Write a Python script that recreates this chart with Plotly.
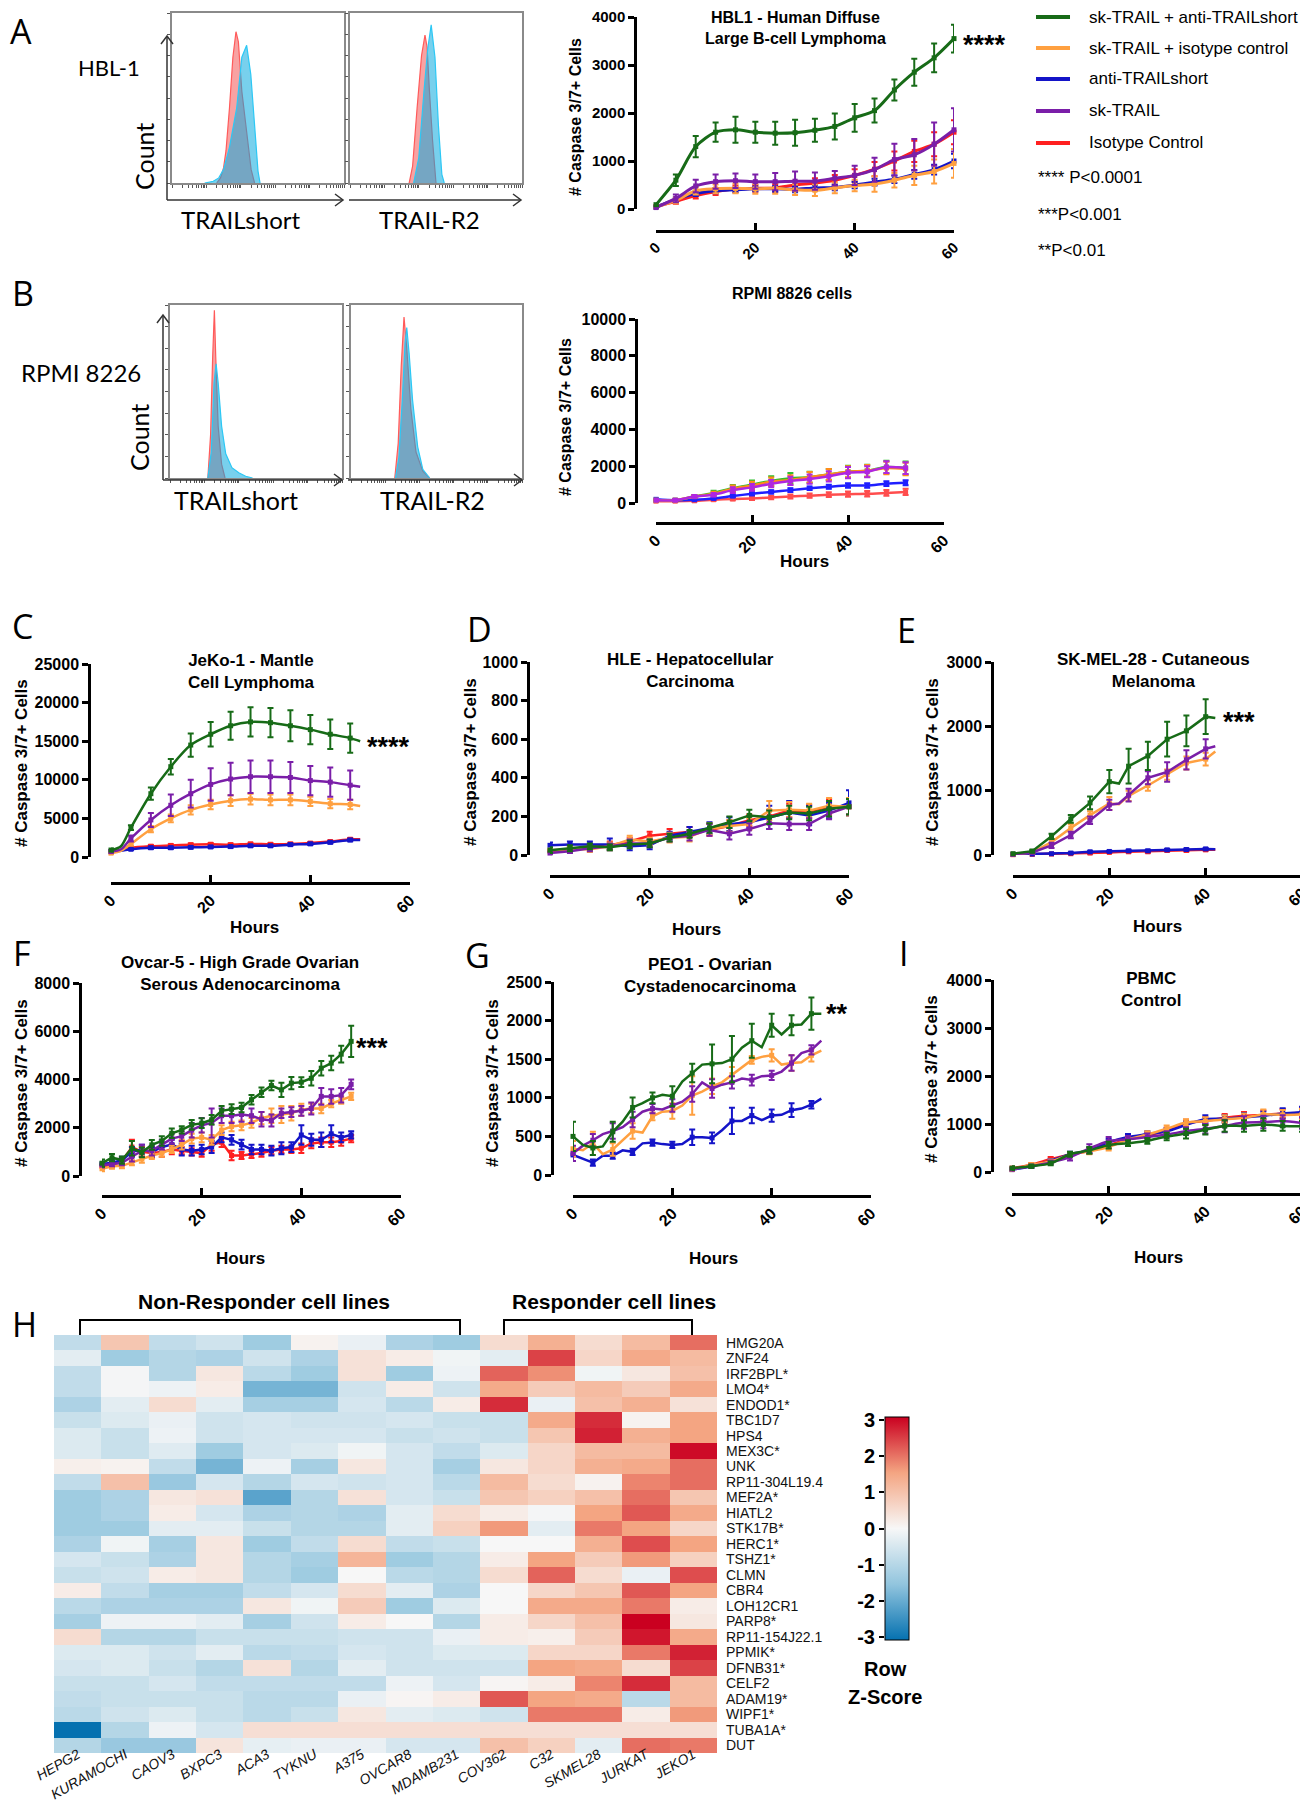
import plotly.graph_objects as go

W, H = 1308, 1800
ARIAL = "Liberation Sans, Arial, sans-serif"
CALIBRI = "Lato, 'Open Sans', sans-serif"
LETTER = "'Open Sans', 'Noto Sans', sans-serif"


def fx(x):
    return x / W


def fy(y):
    return 1 - y / H


# ======================= DATA =======================
SERIES = ["sk-TRAIL + anti-TRAILshort", "sk-TRAIL + isotype control",
          "anti-TRAILshort", "sk-TRAIL", "Isotype Control"]
P_LABELS = ["**** P<0.0001", "***P<0.001", "**P<0.01"]
HOUR_TICKS = [0, 20, 40, 60]

# ---- Panel A (HBL1) ----
hbl1_hours = [0, 4, 8, 12, 16, 20, 24, 28, 32, 36, 40, 44, 48, 52, 56, 60]
hbl1_green = [90, 600, 1300, 1600, 1650, 1600, 1580, 1590, 1640, 1720, 1900, 2050, 2480, 2850, 3150, 3550]
hbl1_green_err = [30, 120, 220, 200, 270, 220, 240, 270, 240, 270, 290, 250, 220, 280, 300, 290]
hbl1_orange = [40, 180, 380, 420, 430, 420, 430, 400, 390, 440, 490, 520, 600, 700, 780, 950]
hbl1_orange_err = [20, 60, 80, 90, 100, 100, 110, 110, 120, 110, 120, 160, 150, 200, 250, 300]
hbl1_blue = [40, 200, 320, 380, 400, 420, 420, 410, 440, 450, 500, 560, 620, 720, 820, 1000]
hbl1_blue_err = [20, 40, 50, 50, 50, 50, 60, 60, 60, 60, 70, 70, 80, 90, 100, 150]
hbl1_purple = [30, 220, 480, 570, 590, 570, 570, 580, 580, 640, 700, 820, 1030, 1130, 1350, 1650]
hbl1_purple_err = [20, 80, 130, 150, 150, 150, 180, 200, 180, 150, 200, 250, 330, 330, 450, 450]
hbl1_red = [50, 160, 280, 360, 420, 430, 440, 500, 540, 600, 700, 830, 1000, 1200, 1350, 1600]
hbl1_red_err = [20, 50, 60, 70, 70, 70, 80, 90, 100, 110, 130, 150, 200, 220, 250, 250]

# ---- Panel B (RPMI 8826) ----
rpmi_hours = [0, 4, 8, 12, 16, 20, 24, 28, 32, 36, 40, 44, 48, 52]
rpmi_green = [150, 150, 350, 550, 800, 1000, 1200, 1350, 1400, 1550, 1700, 1750, 1950, 1900]
rpmi_green_err = [50, 50, 80, 120, 180, 220, 250, 280, 300, 300, 320, 330, 350, 350]
rpmi_orange = [150, 150, 350, 500, 780, 950, 1150, 1250, 1400, 1550, 1700, 1750, 1900, 1850]
rpmi_orange_err = [50, 50, 80, 110, 170, 200, 230, 260, 280, 300, 300, 320, 340, 340]
rpmi_purple = [150, 150, 350, 450, 700, 850, 1050, 1200, 1300, 1450, 1650, 1700, 1950, 1900]
rpmi_purple_err = [50, 50, 80, 100, 150, 180, 200, 220, 250, 280, 300, 300, 320, 320]
rpmi_blue = [200, 150, 180, 250, 380, 500, 600, 700, 800, 880, 950, 950, 1050, 1100]
rpmi_blue_err = [40, 40, 50, 60, 70, 80, 90, 100, 100, 110, 120, 120, 130, 140]
rpmi_red = [100, 100, 120, 180, 220, 250, 300, 350, 400, 450, 480, 500, 550, 600]
rpmi_red_err = [40, 40, 50, 60, 70, 90, 100, 110, 120, 130, 140, 150, 160, 170]

# ---- Panel C (JeKo-1) ----
jeko_hours = [0, 2, 4, 8, 12, 16, 20, 24, 28, 32, 36, 40, 44, 48, 50]
jeko_green = [900, 1400, 3800, 8200, 11700, 14500, 15900, 17000, 17500, 17400, 17000, 16500, 15900, 15400, 15000]
jeko_green_err = [200, None, 300, 800, 1000, 1500, 1600, 1800, 1900, 1900, 2000, 1900, 1900, 1900, None]
jeko_purple = [700, 1000, 2400, 4800, 6700, 8200, 9400, 10100, 10400, 10400, 10300, 9900, 9700, 9300, 9100]
jeko_purple_err = [150, None, 400, 900, 1400, 1800, 2100, 2100, 2100, 2100, 2000, 1900, 1900, 1900, None]
jeko_orange = [500, 800, 1700, 3600, 5000, 6100, 6800, 7300, 7500, 7400, 7400, 7200, 6900, 6800, 6600]
jeko_orange_err = [100, None, 200, 400, 500, 600, 600, 700, 700, 700, 700, 600, 600, 600, None]
jeko_red = [700, 900, 1200, 1400, 1500, 1600, 1650, 1600, 1700, 1650, 1700, 1800, 2000, 2300, 2300]
jeko_red_err = [100, None, 150, 150, 150, 150, 150, 150, 150, 150, 150, 150, 150, 150, None]
jeko_blue = [700, 800, 1000, 1200, 1200, 1250, 1300, 1350, 1450, 1450, 1600, 1700, 1900, 2200, 2200]
jeko_blue_err = [100, None, 100, 150, 150, 150, 150, 150, 150, 150, 150, 150, 150, 150, None]

# ---- Panel D (HLE) ----
hle_hours = [0, 4, 8, 12, 16, 20, 24, 28, 32, 36, 40, 44, 48, 52, 56, 60]
hle_green = [25, 35, 45, 40, 55, 60, 90, 110, 140, 170, 205, 195, 220, 215, 240, 250]
hle_green_err = [15, 15, 15, 15, 20, 20, 20, 20, 25, 30, 30, 35, 35, 35, 40, 40]
hle_blue = [50, 55, 55, 55, 45, 50, 100, 120, 140, 160, 170, 195, 220, 205, 230, 270]
hle_blue_err = [15, 15, 15, 30, 20, 20, 20, 25, 30, 35, 30, 60, 60, 50, 40, 65]
hle_red = [20, 30, 40, 50, 70, 100, 110, 120, 130, 150, 180, 200, 230, 225, 250, 250]
hle_red_err = [10, 15, 15, 20, 20, 20, 25, 25, 30, 30, 30, 35, 35, 35, 40, 40]
hle_orange = [25, 30, 30, 45, 80, 70, 90, 95, 135, 150, 160, 230, 235, 230, 255, 250]
hle_orange_err = [10, 15, 15, 20, 20, 20, 25, 25, 30, 30, 30, 50, 40, 35, 40, 45]
hle_purple = [10, 20, 35, 45, 60, 60, 90, 100, 130, 110, 135, 165, 160, 160, 215, 250]
hle_purple_err = [10, 10, 15, 15, 20, 20, 20, 25, 30, 30, 30, 30, 30, 30, 30, 40]

# ---- Panel E (SK-MEL-28) ----
skmel_hours = [0, 4, 8, 12, 16, 20, 22, 24, 28, 32, 36, 40, 42]
skmel_green = [20, 60, 290, 560, 810, 1140, 1110, 1380, 1540, 1800, 1930, 2150, 2130]
skmel_green_err = [10, 20, 40, 60, 100, 180, None, 270, 220, 270, 240, 270, None]
skmel_purple = [10, 40, 150, 310, 540, 780, 800, 930, 1200, 1290, 1480, 1650, 1690]
skmel_purple_err = [5, 15, 40, 50, 60, 80, None, 100, 100, 150, 150, 150, None]
skmel_orange = [10, 40, 200, 420, 620, 800, 790, 920, 1080, 1250, 1430, 1490, 1610]
skmel_orange_err = [5, 15, 40, 60, 60, 100, None, 80, 80, 80, 100, 100, None]
skmel_blue = [10, 15, 20, 30, 50, 55, 60, 65, 65, 80, 85, 95, 90]
skmel_blue_err = [5, 5, 5, 10, 10, 10, None, 15, 15, 15, 15, 15, None]
skmel_red = [5, 10, 15, 20, 30, 40, 45, 50, 50, 70, 70, 80, 80]
skmel_red_err = [5, 5, 5, 5, 10, 10, None, 10, 15, 15, 15, 15, None]

# ---- Panel F (Ovcar-5) ----
ovcar_hours = [0, 2, 4, 6, 8, 10, 12, 14, 16, 18, 20, 22, 24, 26, 28, 30, 32, 34, 36, 38, 40, 42, 44, 46, 48, 50]
ovcar_green = [530, 760, 660, 1150, 980, 1290, 1450, 1770, 1910, 2120, 2190, 2330, 2700, 2770, 2840, 3160, 3470, 3750, 3570, 3850, 3890, 4050, 4470, 4680, 5050, 5580]
ovcar_green_err = [150, 150, 150, 300, 200, 200, 200, 200, 150, 200, 200, 200, 200, 200, 200, 200, 200, 200, 300, 250, 200, 300, 300, 300, 350, 650]
ovcar_purple = [450, 500, 550, 800, 1050, 1050, 1300, 1550, 1650, 1900, 2100, 2200, 2500, 2500, 2550, 2500, 2350, 2300, 2600, 2650, 2700, 2800, 3300, 3300, 3350, 3800]
ovcar_purple_err = [100, 100, 100, 200, 250, 200, 200, 200, 200, 300, 300, 600, 300, 300, 300, 300, 300, 250, 200, 200, 200, 250, 350, 300, 300, 200]
ovcar_orange = [300, 400, 420, 550, 700, 850, 950, 1100, 1300, 1550, 1600, 1500, 1900, 2050, 2100, 2200, 2400, 2500, 2550, 2600, 2750, 2800, 2800, 3000, 3150, 3300]
ovcar_orange_err = [100, 100, 100, 100, 150, 150, 150, 150, 200, 200, 200, 200, 200, 200, 200, 200, 250, 300, 350, 300, 250, 200, 200, 150, 150, 150]
ovcar_blue = [500, 550, 650, 1000, 1100, 1000, 1200, 1300, 1100, 1050, 1100, 1200, 1600, 1500, 1300, 1100, 1100, 1050, 1150, 1200, 1700, 1500, 1500, 1750, 1600, 1700]
ovcar_blue_err = [100, 100, 150, 200, 200, 200, 200, 200, 250, 200, 200, 250, 200, 200, 200, 200, 200, 200, 250, 200, 400, 250, 300, 350, 200, 150]
ovcar_red = [400, 450, 600, 1200, 1000, 950, 1000, 1100, 1050, 1000, 950, 1300, 1400, 850, 850, 900, 950, 1050, 1100, 1100, 1150, 1350, 1400, 1400, 1450, 1550]
ovcar_red_err = [100, 100, 150, 300, 200, 200, 200, 200, 150, 150, 150, 250, 200, 200, 150, 150, 150, 150, 150, 150, 200, 200, 200, 200, 200, 150]

# ---- Panel G (PEO1) ----
peo1_hours = [0, 2, 4, 6, 8, 10, 12, 14, 16, 18, 20, 22, 24, 26, 28, 30, 32, 34, 36, 38, 40, 42, 44, 46, 48, 50]
peo1_green = [500, 390, 350, 370, 560, 690, 875, 930, 1000, 1040, 1020, 1210, 1320, 1430, 1440, 1450, 1500, 1650, 1740, 1655, 1940, 1820, 1940, 1950, 2090, 2090]
peo1_green_err = [190, None, 90, None, 130, None, 130, None, 70, None, 130, None, 120, None, 250, None, 300, None, 220, None, 150, None, 130, None, 210, None]
peo1_purple = [280, 380, 450, 530, 570, 620, 720, 820, 860, 850, 900, 950, 1050, 1200, 1120, 1170, 1200, 1250, 1230, 1280, 1290, 1340, 1450, 1580, 1620, 1740]
peo1_purple_err = [100, None, 80, None, 100, None, 100, None, 60, None, 80, None, 100, None, 120, None, 80, None, 70, None, 60, None, 100, None, 60, None]
peo1_orange = [340, 320, 410, 270, 330, 450, 570, 550, 760, 820, 830, 900, 1030, 1080, 1150, 1200, 1300, 1400, 1490, 1530, 1550, 1430, 1450, 1460, 1550, 1610]
peo1_orange_err = [100, None, 150, None, 80, None, 100, None, 50, None, 100, None, 250, None, 100, None, 100, None, 50, None, 80, None, 100, None, 80, None]
peo1_blue = [260, 210, 160, 250, 250, 320, 300, 410, 420, 400, 390, 400, 490, 490, 480, 580, 700, 700, 770, 710, 770, 780, 840, 860, 910, 990]
peo1_blue_err = [80, None, 40, None, 40, None, 40, None, 40, None, 40, None, 100, None, 70, None, 170, None, 100, None, 80, None, 90, None, 50, None]

# ---- Panel I (PBMC) ----
pbmc_hours = [0, 4, 8, 12, 16, 20, 24, 28, 32, 36, 40, 44, 48, 52, 56, 60]
pbmc_blue = [50, 120, 230, 370, 450, 620, 730, 790, 850, 980, 1100, 1110, 1140, 1170, 1220, 1250]
pbmc_blue_err = [30, 30, 40, 50, 60, 70, 60, 60, 60, 70, 80, 80, 90, 90, 110, 110]
pbmc_red = [80, 150, 270, 360, 440, 560, 680, 760, 860, 1020, 1060, 1130, 1170, 1190, 1220, 1230]
pbmc_red_err = [30, 30, 40, 50, 60, 70, 60, 60, 60, 70, 80, 80, 80, 90, 90, 100]
pbmc_orange = [50, 150, 220, 360, 430, 520, 680, 780, 900, 1030, 1060, 1100, 1130, 1200, 1190, 1200]
pbmc_orange_err = [30, 30, 40, 50, 60, 70, 60, 70, 70, 70, 80, 80, 90, 100, 100, 110]
pbmc_purple = [60, 120, 200, 310, 490, 640, 680, 730, 780, 850, 900, 960, 1030, 1040, 1060, 1020]
pbmc_purple_err = [30, 30, 40, 70, 90, 90, 70, 70, 70, 80, 100, 130, 130, 130, 120, 120]
pbmc_green = [80, 120, 180, 370, 450, 560, 600, 650, 740, 800, 880, 960, 960, 990, 960, 950]
pbmc_green_err = [40, 30, 40, 50, 70, 70, 60, 60, 80, 100, 100, 120, 120, 130, 100, 110]

# ---- Flow histograms (x: log10 fluorescence, y: % of max count) ----
hblA_short_iso_x = [1.3, 1.41, 1.5, 1.57, 1.67, 1.77, 1.86, 1.93, 2.03, 2.19, 2.3, 2.4]
hblA_short_iso_y = [0, 3, 9, 19, 44, 74, 89, 83, 54, 25, 8, 0]
hblA_short_ab_x = [0.95, 1.2, 1.36, 1.5, 1.67, 1.88, 2.03, 2.17, 2.29, 2.4, 2.5, 2.56]
hblA_short_ab_y = [0, 1, 3, 8, 21, 44, 74, 81, 64, 34, 7, 0]
hblA_r2_iso_x = [1.72, 1.82, 1.95, 2.08, 2.18, 2.24, 2.31, 2.4, 2.5]
hblA_r2_iso_y = [0, 10, 44, 75, 87, 80, 54, 25, 0]
hblA_r2_ab_x = [1.85, 2.0, 2.15, 2.26, 2.36, 2.47, 2.57, 2.67, 2.74]
hblA_r2_ab_y = [0, 15, 54, 79, 93, 74, 34, 5, 0]
rpmi_short_iso_x = [1.1, 1.18, 1.24, 1.29, 1.33, 1.4, 1.5, 1.6]
rpmi_short_iso_y = [0, 25, 70, 97, 70, 30, 8, 0]
rpmi_short_ab_x = [1.1, 1.2, 1.28, 1.34, 1.4, 1.5, 1.62, 1.8, 2.0, 2.2, 2.4]
rpmi_short_ab_y = [0, 15, 55, 66, 55, 30, 14, 6, 3, 1, 0]
rpmi_r2_iso_x = [1.28, 1.38, 1.47, 1.55, 1.63, 1.75, 1.9, 2.1, 2.3]
rpmi_r2_iso_y = [0, 20, 65, 93, 75, 40, 15, 4, 0]
rpmi_r2_ab_x = [1.3, 1.4, 1.5, 1.58, 1.63, 1.7, 1.8, 1.95, 2.1, 2.3]
rpmi_r2_ab_y = [0, 12, 45, 78, 87, 72, 45, 18, 5, 0]

# ---- Heatmap (Panel H) ----
cell_lines = ["HEPG2", "KURAMOCHI", "CAOV3", "BXPC3", "ACA3", "TYKNU", "A375",
              "OVCAR8", "MDAMB231", "COV362", "C32", "SKMEL28", "JURKAT", "JEKO1"]
genes = ["HMG20A", "ZNF24", "IRF2BPL*", "LMO4*", "ENDOD1*", "TBC1D7", "HPS4",
         "MEX3C*", "UNK", "RP11-304L19.4", "MEF2A*", "HIATL2", "STK17B*", "HERC1*",
         "TSHZ1*", "CLMN", "CBR4", "LOH12CR1", "PARP8*", "RP11-154J22.1", "PPMIK*",
         "DFNB31*", "CELF2", "ADAM19*", "WIPF1*", "TUBA1A*", "DUT"]
heat_z = [
    [-0.8, 0.9, -0.8, -0.6, -1.3, 0.1, -0.2, -1.1, -1.3, 0.5, 1.3, 0.5, 1.1, 2.0],
    [-0.3, -1.3, -1.0, -1.1, -0.6, -1.1, 0.4, 0.2, -0.1, -0.3, 2.4, 0.6, 1.4, 1.1],
    [-0.8, -0.05, -1.0, 0.3, -0.9, -1.3, 0.4, -1.3, -0.15, 2.1, 1.7, -0.1, 0.3, 1.0],
    [-0.8, -0.05, -0.15, 0.2, -1.8, -1.8, -0.6, 0.2, -0.6, 1.4, 0.8, 1.1, 0.8, 1.4],
    [-1.1, -0.3, 0.5, -0.3, -1.2, -1.2, -0.5, -0.9, 0.2, 2.6, -0.2, 1.0, 1.3, 0.4],
    [-0.7, -0.4, -0.2, -0.6, -0.5, -0.6, -0.6, -0.5, -0.7, -0.7, 1.4, 2.6, 0.1, 1.5],
    [-0.4, -0.7, -0.15, -0.6, -0.5, -0.5, -0.5, -0.7, -0.6, -0.7, 0.9, 2.7, 1.3, 1.5],
    [-0.4, -0.7, -0.35, -1.3, -0.5, -0.4, -0.1, -0.5, -0.8, -0.4, 0.6, 1.1, 1.1, 2.9],
    [0.15, 0.1, -0.8, -1.8, -0.15, -1.2, 0.3, -0.5, -1.2, 0.3, 0.6, 1.3, 1.4, 2.0],
    [-0.8, 1.0, -1.4, -0.5, -1.0, -0.5, -0.6, -0.5, -0.9, 1.1, 0.5, 0.1, 1.8, 2.0],
    [-1.3, -1.1, 0.3, 0.4, -2.1, -1.0, 0.4, -0.5, -0.7, 0.9, 0.7, 1.0, 2.0, 0.9],
    [-1.3, -1.1, 0.2, -0.5, -1.1, -1.0, -1.1, -0.3, 0.5, 0.2, -0.05, 1.5, 2.2, 1.4],
    [-1.3, -1.3, -0.3, -0.3, -0.7, -1.0, -1.0, -0.3, 0.7, 1.6, -0.3, 1.9, 1.5, 0.6],
    [-1.1, -0.1, -1.2, 0.3, -1.3, -0.8, 0.5, -0.8, -0.7, 0.0, 0.0, 1.3, 2.3, 1.5],
    [-0.5, -0.7, -1.1, 0.3, -1.0, -1.2, 1.2, -1.3, -1.0, 0.2, 1.5, 0.8, 1.6, 0.7],
    [-0.7, -0.6, 0.2, 0.3, -1.0, -1.3, 0.0, -0.9, -1.0, 0.5, 2.1, 0.5, -0.2, 2.3],
    [0.2, -0.8, -1.2, -1.2, -0.8, -0.5, 0.5, -0.3, -1.1, 0.0, 0.6, 0.9, 2.2, 1.5],
    [-0.9, -1.1, -1.1, -1.1, 0.3, -0.1, 0.8, -1.3, -0.4, 0.0, 1.4, 1.4, 1.9, 0.2],
    [-1.2, -0.15, -0.15, -0.3, -1.2, -0.6, 0.2, 0.0, -1.0, 0.2, 0.6, 1.0, 3.0, 0.3],
    [0.5, -1.0, -1.0, -0.7, -0.7, -0.7, -0.6, -0.6, -0.2, 0.2, 0.15, 0.8, 2.8, 1.4],
    [-0.4, -0.4, -0.6, -0.3, -0.9, -0.8, -0.5, -0.6, -0.4, -0.4, 0.6, 0.6, 1.9, 2.7],
    [-0.5, -0.4, -0.7, -1.0, 0.4, -1.0, -0.3, -0.6, -0.6, -0.6, 1.5, 1.4, 0.5, 2.4],
    [-0.7, -0.7, -0.5, -0.8, -0.8, -0.8, -0.8, -0.15, -0.5, 0.05, 0.2, 1.8, 2.6, 1.1],
    [-0.8, -0.7, -0.7, -0.7, -0.9, -0.9, -0.2, 0.05, 0.2, 2.2, 1.5, 1.4, -0.9, 1.1],
    [-0.9, -0.6, -0.4, -0.7, -0.9, -0.7, 0.3, -0.3, -0.4, -0.6, 1.9, 1.9, 0.2, 1.6],
    [-3.0, -1.0, -0.15, -0.5, 0.45, 0.45, 0.45, 0.45, 0.45, 0.45, 0.45, 0.45, 0.45, 0.45],
    [-1.0, -1.4, -1.4, 0.35, -0.25, -0.2, -0.2, -0.5, -0.5, 1.0, 0.7, -0.3, 2.0, 1.9],
]
cbar_ticks = [-3, -2, -1, 0, 1, 2, 3]
cbar_labels = ["-3", "-2", "-1", "0", "1", "2", "3"]

# ======================= STYLE =======================
COL = dict(zip(SERIES, ["#176b17", "#ffa040", "#1414c8", "#7a1ea8", "#ff2020"]))
COL_B = dict(zip(SERIES, ["#2fbf2f", "#ff8c1a", "#1f1fff", "#b026e0", "#ff4d4d"]))
DRAW_ORDER = ["Isotype Control", "anti-TRAILshort", "sk-TRAIL + isotype control",
              "sk-TRAIL", "sk-TRAIL + anti-TRAILshort"]
DRAW_ORDER_B = ["Isotype Control", "anti-TRAILshort", "sk-TRAIL + anti-TRAILshort",
                "sk-TRAIL + isotype control", "sk-TRAIL"]

fig = go.Figure()
L = dict(width=W, height=H, margin=dict(l=0, r=0, t=0, b=0), template="none",
         paper_bgcolor="white", plot_bgcolor="rgba(0,0,0,0)", showlegend=False,
         hovermode=False)
ann = []
shp = []
_n = [0]


def new_axes():
    _n[0] += 1
    s = "" if _n[0] == 1 else str(_n[0])
    return "x" + s, "y" + s, "xaxis" + s, "yaxis" + s


def text(x, y, t, size, family=ARIAL, bold=False, angle=0, xanchor="center",
         yanchor="middle", color="black"):
    if bold:
        t = "<b>%s</b>" % t
    ann.append(dict(x=fx(x), y=fy(y), xref="paper", yref="paper", text=t,
                    showarrow=False, font=dict(family=family, size=size, color=color),
                    textangle=angle, xanchor=xanchor, yanchor=yanchor))


def path(points, color="black", width=2):
    d = "M " + " L ".join("%.5f,%.5f" % (fx(a), fy(b)) for a, b in points)
    shp.append(dict(type="path", path=d, xref="paper", yref="paper",
                    line=dict(color=color, width=width)))


def arrow_h(x0, x1, y):
    path([(x0, y), (x1, y)], "#333", 1.5)
    path([(x1 - 8, y - 6), (x1, y), (x1 - 8, y + 6)], "#333", 1.5)


def arrow_v(x, y0, y1):
    path([(x, y0), (x, y1)], "#333", 1.5)
    path([(x - 6, y1 + 8), (x, y1), (x + 6, y1 + 8)], "#333", 1.5)


RED_LINE, RED_FILL = "#ff5a5a", "rgba(242,85,85,0.55)"
CYAN_LINE, CYAN_FILL = "#2cc8f5", "rgba(10,170,222,0.55)"


def hist_panel(x0, x1, y0, y1, curves):
    xr, yr, xk, yk = new_axes()
    L[xk] = dict(domain=[fx(x0), fx(x1)], anchor=yr, type="log", range=[0, 5],
                 showline=True, mirror=True, linecolor="#8a8a8a", linewidth=1.5,
                 ticks="outside", ticklen=3, tickwidth=1, tickcolor="#555",
                 dtick="D1", showticklabels=False, showgrid=False, zeroline=False,
                 automargin=False, fixedrange=True)
    L[yk] = dict(domain=[fy(y1), fy(y0)], anchor=xr, range=[0, 100],
                 showline=True, mirror=True, linecolor="#8a8a8a", linewidth=1.5,
                 ticks="outside", ticklen=3, tickwidth=1, tickcolor="#555",
                 dtick=12.5, showticklabels=False, showgrid=False, zeroline=False,
                 automargin=False, fixedrange=True)
    for xs, ys, lc, fc in curves:
        fig.add_trace(go.Scatter(x=[10 ** v for v in xs], y=ys, mode="lines",
                                 fill="tozeroy", fillcolor=fc,
                                 line=dict(color=lc, width=1.2),
                                 xaxis=xr, yaxis=yr, hoverinfo="skip"))


def line_panel(g, hours, vals, errs, colors, order):
    xr, yr, xk, yk = new_axes()
    tf = dict(family=ARIAL, size=g.get("tfs", 16), color="black", weight=700)
    L[xk] = dict(domain=[fx(g["x0"]), fx(g["x1"])], range=[0, 60], anchor="free",
                 position=fy(g["xly"]), showline=True, linecolor="black", linewidth=2.5,
                 ticks="inside", ticklen=7, tickwidth=2.5, tickcolor="black",
                 tickvals=HOUR_TICKS, tickangle=-45, tickfont=tf, showgrid=False,
                 zeroline=False, automargin=False, fixedrange=True,
                 ticklabeloverflow="allow")
    L[yk] = dict(domain=[fy(g["ybot"]), fy(g["ytop"])], range=[0, g["ymax"]],
                 anchor="free", position=fx(g["ylx"]), showline=True,
                 linecolor="black", linewidth=2.5, ticks="outside", ticklen=6,
                 tickwidth=2.5, tickcolor="black", dtick=g["dtick"], tickformat="d",
                 tickfont=tf, showgrid=False, zeroline=False, automargin=False,
                 fixedrange=True)
    for name in order:
        if name not in vals:
            continue
        v = vals[name]
        e = errs[name]
        c = colors[name]
        fig.add_trace(go.Scatter(x=hours, y=v, mode="lines",
                                 line=dict(color=c, width=g.get("lw", 2.5),
                                           shape=g.get("shape", "linear"), smoothing=0.8),
                                 xaxis=xr, yaxis=yr, hoverinfo="skip"))
        idx = [i for i, ev in enumerate(e) if ev is not None]
        fig.add_trace(go.Scatter(x=[hours[i] for i in idx], y=[v[i] for i in idx],
                                 mode="markers", cliponaxis=False,
                                 marker=dict(symbol="square", size=5, color=c),
                                 error_y=dict(type="data", array=[e[i] for i in idx],
                                              color=c, thickness=2, width=3),
                                 xaxis=xr, yaxis=yr, hoverinfo="skip"))
    fs = g.get("fs", 17)
    text(g["title_x"], g["title_y"], g["title"], fs, bold=True)
    text(g["yt_x"], g["yt_y"], "# Caspase 3/7+ Cells", fs, bold=True, angle=-90)
    if g.get("hours_y"):
        text(g["hours_x"], g["hours_y"], "Hours", 17, bold=True)
    if g.get("stars"):
        text(g["stars_x"], g["stars_y"], g["stars"], 27, bold=True)


# ======================= PANEL A =======================
hist_panel(164, 336, 5, 175, [(hblA_short_iso_x, hblA_short_iso_y, RED_LINE, RED_FILL),
                              (hblA_short_ab_x, hblA_short_ab_y, CYAN_LINE, CYAN_FILL)])
hist_panel(342, 514, 5, 175, [(hblA_r2_iso_x, hblA_r2_iso_y, RED_LINE, RED_FILL),
                              (hblA_r2_ab_x, hblA_r2_ab_y, CYAN_LINE, CYAN_FILL)])
arrow_v(159, 192, 28)
arrow_h(159, 335, 192)
arrow_h(341, 513, 192)
text(101, 60, "HBL-1", 22, family=CALIBRI)
text(136, 149, "Count", 25, family=CALIBRI, angle=-90)
text(232, 211, "TRAILshort", 24, family=CALIBRI)
text(421, 211, "TRAIL-R2", 24, family=CALIBRI)

line_panel(dict(ylx=627, x0=648, x1=946, ytop=9, ybot=201, xly=223, ymax=4000, dtick=1000,
                shape="spline", lw=3, fs=16, tfs=15,
                title="HBL1 - Human Diffuse<br>Large B-cell Lymphoma", title_x=787, title_y=20,
                yt_x=567, yt_y=109, stars="****", stars_x=976, stars_y=37),
           hbl1_hours,
           {SERIES[0]: hbl1_green, SERIES[1]: hbl1_orange, SERIES[2]: hbl1_blue,
            SERIES[3]: hbl1_purple, SERIES[4]: hbl1_red},
           {SERIES[0]: hbl1_green_err, SERIES[1]: hbl1_orange_err, SERIES[2]: hbl1_blue_err,
            SERIES[3]: hbl1_purple_err, SERIES[4]: hbl1_red_err},
           COL, DRAW_ORDER)

# legend
leg_y = [9, 40, 71, 103, 135]
for name, yy in zip(SERIES, leg_y):
    path([(1028, yy), (1062, yy)], COL[name], 4)
    text(1079, yy, name, 17, xanchor="left")
for lab, yy in zip(P_LABELS, [169, 207, 242]):
    text(1028, yy, lab, 17, xanchor="left")

# ======================= PANEL B =======================
hist_panel(162, 334, 297, 470, [(rpmi_short_iso_x, rpmi_short_iso_y, RED_LINE, RED_FILL),
                                (rpmi_short_ab_x, rpmi_short_ab_y, CYAN_LINE, CYAN_FILL)])
hist_panel(343, 514, 297, 470, [(rpmi_r2_iso_x, rpmi_r2_iso_y, RED_LINE, RED_FILL),
                                (rpmi_r2_ab_x, rpmi_r2_ab_y, CYAN_LINE, CYAN_FILL)])
arrow_v(155, 472, 307)
arrow_h(155, 334, 472)
arrow_h(340, 514, 472)
text(73, 365, "RPMI 8226", 24, family=CALIBRI)
text(131, 430, "Count", 25, family=CALIBRI, angle=-90)
text(228, 492, "TRAILshort", 25, family=CALIBRI)
text(424, 492, "TRAIL-R2", 25, family=CALIBRI)

line_panel(dict(ylx=628, x0=648, x1=936, ytop=311, ybot=495, xly=515, ymax=10000, dtick=2000,
                shape="spline", title="RPMI 8826 cells", title_x=784, title_y=286, fs=16,
                yt_x=557, yt_y=409, hours_x=796, hours_y=553),
           rpmi_hours,
           {SERIES[0]: rpmi_green, SERIES[1]: rpmi_orange, SERIES[2]: rpmi_blue,
            SERIES[3]: rpmi_purple, SERIES[4]: rpmi_red},
           {SERIES[0]: rpmi_green_err, SERIES[1]: rpmi_orange_err, SERIES[2]: rpmi_blue_err,
            SERIES[3]: rpmi_purple_err, SERIES[4]: rpmi_red_err},
           COL_B, DRAW_ORDER_B)

# ======================= PANELS C-I =======================
line_panel(dict(ylx=81, x0=103, x1=402, ytop=656, ybot=849, xly=875, ymax=25000, dtick=5000,
                shape="spline", title="JeKo-1 - Mantle<br>Cell Lymphoma", title_x=243, title_y=664,
                yt_x=13, yt_y=755, hours_x=246, hours_y=920,
                stars="****", stars_x=380, stars_y=739),
           jeko_hours,
           {SERIES[0]: jeko_green, SERIES[1]: jeko_orange, SERIES[2]: jeko_blue,
            SERIES[3]: jeko_purple, SERIES[4]: jeko_red},
           {SERIES[0]: jeko_green_err, SERIES[1]: jeko_orange_err, SERIES[2]: jeko_blue_err,
            SERIES[3]: jeko_purple_err, SERIES[4]: jeko_red_err},
           COL, DRAW_ORDER)

line_panel(dict(ylx=520, x0=542, x1=841, ytop=654, ybot=847, xly=868, ymax=1000, dtick=200,
                title="HLE - Hepatocellular<br>Carcinoma", title_x=682, title_y=662,
                yt_x=462, yt_y=754, hours_x=688, hours_y=921),
           hle_hours,
           {SERIES[0]: hle_green, SERIES[1]: hle_orange, SERIES[2]: hle_blue,
            SERIES[3]: hle_purple, SERIES[4]: hle_red},
           {SERIES[0]: hle_green_err, SERIES[1]: hle_orange_err, SERIES[2]: hle_blue_err,
            SERIES[3]: hle_purple_err, SERIES[4]: hle_red_err},
           COL, DRAW_ORDER)

line_panel(dict(ylx=984, x0=1005, x1=1294, ytop=654, ybot=847, xly=868, ymax=3000, dtick=1000,
                title="SK-MEL-28 - Cutaneous<br>Melanoma", title_x=1145, title_y=662,
                yt_x=924, yt_y=754, hours_x=1149, hours_y=918,
                stars="***", stars_x=1231, stars_y=714),
           skmel_hours,
           {SERIES[0]: skmel_green, SERIES[1]: skmel_orange, SERIES[2]: skmel_blue,
            SERIES[3]: skmel_purple, SERIES[4]: skmel_red},
           {SERIES[0]: skmel_green_err, SERIES[1]: skmel_orange_err, SERIES[2]: skmel_blue_err,
            SERIES[3]: skmel_purple_err, SERIES[4]: skmel_red_err},
           COL, DRAW_ORDER)

line_panel(dict(ylx=72, x0=94, x1=393, ytop=975, ybot=1168, xly=1188, ymax=8000, dtick=2000,
                title="Ovcar-5 - High Grade Ovarian<br>Serous Adenocarcinoma", title_x=232,
                title_y=965, yt_x=13, yt_y=1075, hours_x=232, hours_y=1250,
                stars="***", stars_x=364, stars_y=1040),
           ovcar_hours,
           {SERIES[0]: ovcar_green, SERIES[1]: ovcar_orange, SERIES[2]: ovcar_blue,
            SERIES[3]: ovcar_purple, SERIES[4]: ovcar_red},
           {SERIES[0]: ovcar_green_err, SERIES[1]: ovcar_orange_err, SERIES[2]: ovcar_blue_err,
            SERIES[3]: ovcar_purple_err, SERIES[4]: ovcar_red_err},
           COL, DRAW_ORDER)

line_panel(dict(ylx=544, x0=565, x1=863, ytop=974, ybot=1167, xly=1188, ymax=2500, dtick=500,
                title="PEO1 - Ovarian<br>Cystadenocarcinoma", title_x=702, title_y=967,
                yt_x=484, yt_y=1075, hours_x=705, hours_y=1250,
                stars="**", stars_x=829, stars_y=1006),
           peo1_hours,
           {SERIES[0]: peo1_green, SERIES[1]: peo1_orange, SERIES[2]: peo1_blue,
            SERIES[3]: peo1_purple},
           {SERIES[0]: peo1_green_err, SERIES[1]: peo1_orange_err, SERIES[2]: peo1_blue_err,
            SERIES[3]: peo1_purple_err},
           COL, DRAW_ORDER)

line_panel(dict(ylx=984, x0=1004, x1=1294, ytop=972, ybot=1164, xly=1186, ymax=4000, dtick=1000,
                shape="spline", title="PBMC<br>Control", title_x=1143, title_y=981,
                yt_x=923, yt_y=1071, hours_x=1150, hours_y=1249),
           pbmc_hours,
           {SERIES[0]: pbmc_green, SERIES[1]: pbmc_orange, SERIES[2]: pbmc_blue,
            SERIES[3]: pbmc_purple, SERIES[4]: pbmc_red},
           {SERIES[0]: pbmc_green_err, SERIES[1]: pbmc_orange_err, SERIES[2]: pbmc_blue_err,
            SERIES[3]: pbmc_purple_err, SERIES[4]: pbmc_red_err},
           COL, DRAW_ORDER)

# ======================= PANEL H (heatmap) =======================
xr, yr, xk, yk = new_axes()
L[xk] = dict(domain=[fx(46), fx(709)], anchor=yr, showgrid=False, zeroline=False,
             showline=False, ticks="", tickangle=-30, automargin=False, fixedrange=True,
             tickmode="array", tickvals=cell_lines, ticktext=cell_lines,
             ticklabelstandoff=-10,
             tickfont=dict(family=ARIAL, size=14, color="#111", style="italic"))
L[yk] = dict(domain=[fy(1745), fy(1327)], anchor=xr, side="right", autorange="reversed",
             showgrid=False, zeroline=False, showline=False, ticks="", automargin=False,
             tickmode="array", tickvals=genes, ticktext=genes,
             ticklabelstandoff=8, fixedrange=True,
             tickfont=dict(family=ARIAL, size=14, color="#111"))
fig.add_trace(go.Heatmap(
    z=heat_z, x=cell_lines, y=genes, zmin=-3, zmax=3, xaxis=xr, yaxis=yr,
    colorscale=[[0, "#0571b0"], [0.25, "#92c5de"], [0.5, "#f7f7f7"],
                [0.75, "#f4a582"], [1, "#ca0020"]],
    hoverinfo="skip",
    colorbar=dict(x=fx(877), xanchor="left", y=fy(1409), yanchor="top",
                  len=223, lenmode="pixels", thickness=24, thicknessmode="pixels",
                  xpad=0, ypad=0, outlinewidth=1, outlinecolor="black",
                  showticklabels=False, ticks="")))

# colorbar scale labels on the left side
xr2, yr2, xk2, yk2 = new_axes()
L[xk2] = dict(domain=[fx(877), fx(901)], anchor=yr2, visible=False, range=[0, 1],
              automargin=False, fixedrange=True)
L[yk2] = dict(domain=[fy(1629), fy(1412)], anchor=xr2, range=[-3, 3], side="left",
              tickvals=cbar_ticks, ticktext=cbar_labels, ticks="outside", ticklen=5,
              tickwidth=2, tickcolor="black", showline=False, showgrid=False,
              zeroline=False, automargin=False, fixedrange=True,
              tickfont=dict(family=ARIAL, size=20, color="black", weight=700))
fig.add_trace(go.Scatter(x=[], y=[], xaxis=xr2, yaxis=yr2, mode="markers", hoverinfo="skip"))

text(877, 1661, "Row", 20, bold=True)
text(877, 1689, "Z-Score", 20, bold=True)

# group brackets
path([(72, 1327), (72, 1312), (452, 1312), (452, 1327)], "black", 2)
path([(496, 1327), (496, 1312), (684, 1312), (684, 1327)], "black", 2)
text(256, 1293, "Non-Responder cell lines", 21, bold=True)
text(606, 1293, "Responder cell lines", 21, bold=True)

# panel letters
for letter, lx, ly in [("A", 0, 23), ("B", 2, 285), ("C", 2, 618), ("D", 457, 621),
                       ("E", 887, 622), ("F", 3, 945), ("G", 455, 947), ("I", 889, 945),
                       ("H", 2, 1316)]:
    text(lx, ly, letter, 34, family=LETTER, xanchor="left")

L["annotations"] = ann
L["shapes"] = shp
fig.update_layout(**L)
fig.write_html("out.html")
